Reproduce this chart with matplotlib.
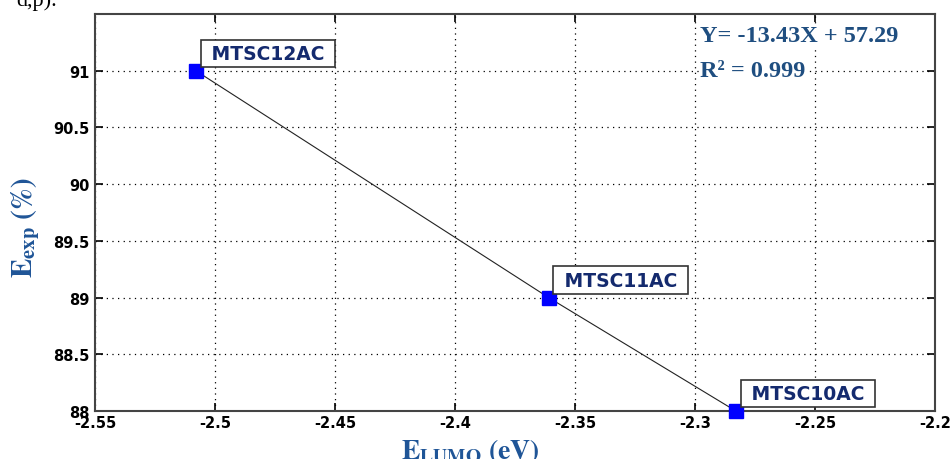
import matplotlib

matplotlib.use("Agg")
import matplotlib.pyplot as plt

# data
names = ["MTSC12AC", "MTSC11AC", "MTSC10AC"]
e_lumo = [-2.508, -2.361, -2.283]
e_exp = [91.0, 89.0, 88.0]

xticks = [-2.55, -2.5, -2.45, -2.4, -2.35, -2.3, -2.25, -2.2]
xticklabels = ["-2.55", "-2.5", "-2.45", "-2.4", "-2.35", "-2.3", "-2.25", "-2.2"]
yticks = [88, 88.5, 89, 89.5, 90, 90.5, 91]
yticklabels = ["88", "88.5", "89", "89.5", "90", "90.5", "91"]

fit_text = "Y= -13.43X + 57.29"
r2_text = "R\u00b2 = 0.999"

plt.rcParams["mathtext.fontset"] = "stix"

fig = plt.figure(figsize=(9.53, 4.60), dpi=100)
ax = fig.add_axes([95 / 953, 1 - 412 / 460, 840 / 953, 397 / 460])

ax.plot(e_lumo, e_exp, color="#222222", lw=0.8, zorder=2)
ax.plot(e_lumo, e_exp, ls="none", marker="s", ms=9.5, color="#0000ff",
        mec="#0000ff", zorder=4, clip_on=False)

for x, y, name in zip(e_lumo, e_exp, names):
    ax.annotate(f" {name} ", (x, y), xytext=(9, 8), textcoords="offset pixels",
                ha="left", va="bottom", fontsize=13.5, fontweight="bold",
                family="DejaVu Sans", color="#142a6e", zorder=5,
                bbox=dict(boxstyle="square,pad=0.22", fc="white",
                          ec="#333333", lw=1.2))

ax.set_xlim(-2.55, -2.2)
ax.set_ylim(88, 91.5)
ax.set_xticks(xticks, xticklabels)
ax.set_yticks(yticks, yticklabels)
ax.tick_params(direction="in", length=6, width=1.2, top=True, right=True,
               labelsize=10.5, pad=3)
ax.tick_params(axis="y", pad=4)
for lab in ax.get_xticklabels() + ax.get_yticklabels():
    lab.set_fontweight("bold")
    lab.set_family("DejaVu Sans")
ax.grid(True, color="black", ls=(0, (1, 3.5)), lw=0.9)
for sp in ax.spines.values():
    sp.set_color("#444444")
    sp.set_linewidth(1.5)

# fit equation sits on a white patch over the grid
eq_style = dict(family="Liberation Serif", fontweight="bold", fontsize=17.5,
                color="#1f4e80", va="baseline", zorder=6,
                bbox=dict(boxstyle="square,pad=0.05", fc="white", ec="none"))
fig.text(700 / 953, 1 - 42 / 460, fit_text, **eq_style)
fig.text(700 / 953, 1 - 77 / 460, r2_text, **eq_style)

fig.text(26 / 953, 1 - 228 / 460, r"$\mathbf{E}_{\mathbf{exp}}\ \mathbf{(\%)}$",
         rotation=90, ha="center", va="center", fontsize=21, color="#1f5597")
fig.text(470 / 953, 1 - 459 / 460, r"$\mathbf{E}_{\mathbf{LUMO}}\ \mathbf{(eV)}$",
         ha="center", va="baseline", fontsize=20, color="#1f5597")

fig.text(57 / 953, 1 - 6 / 460, "d,p).", family="Liberation Serif",
         fontsize=16, ha="right", va="baseline", color="black")

fig.savefig("out.png", dpi=100)
